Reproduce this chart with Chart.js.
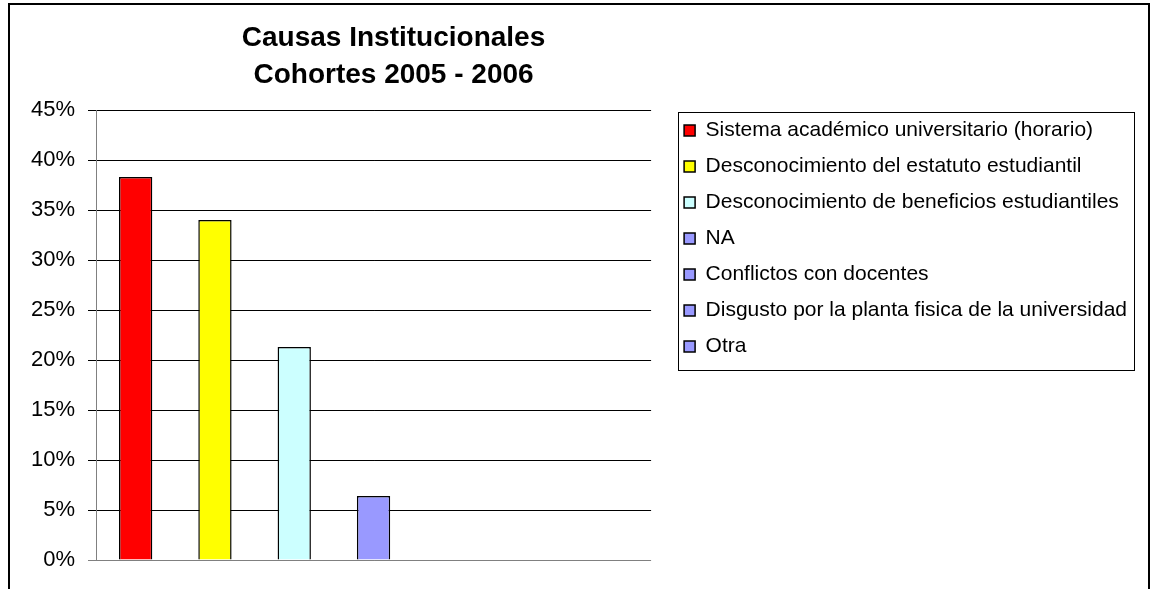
<!DOCTYPE html>
<html>
<head>
<meta charset="utf-8">
<title>Causas Institucionales</title>
<script src="https://cdn.jsdelivr.net/npm/chart.js@4.4.0/dist/chart.umd.min.js"></script>
<style>
  html, body { margin: 0; padding: 0; background: #fff; }
  .wrap { width: 1151px; height: 589px; position: relative; }
</style>
</head>
<body>
<div class="wrap"><canvas id="causas"></canvas></div>
<script>
const titleLines = ['Causas Institucionales', 'Cohortes 2005 - 2006'];
const categories = [
  'Sistema académico universitario (horario)',
  'Desconocimiento del estatuto estudiantil',
  'Desconocimiento de beneficios estudiantiles',
  'NA',
  'Conflictos con docentes',
  'Disgusto por la planta fisica de la universidad',
  'Otra'
];
const values = [38.3, 34.0, 21.3, 6.4, 0, 0, 0];
const barColors = ['#FF0000', '#FFFF00', '#CCFFFF', '#9999FF', '#9999FF', '#9999FF', '#9999FF'];
const yMax = 45;
const yStep = 5;

const FONT = '"Liberation Sans", Arial, sans-serif';

// outer frame, title and the box round the legend
const frame = {
  id: 'frame',
  afterDraw(chart) {
    const ctx = chart.ctx;
    const area = chart.chartArea;
    ctx.save();
    ctx.strokeStyle = '#000';
    ctx.lineWidth = 2;
    ctx.strokeRect(9, 4, 1140, 700);

    ctx.fillStyle = '#000';
    ctx.font = 'bold 28px ' + FONT;
    ctx.textAlign = 'center';
    ctx.textBaseline = 'middle';
    const cx = (area.left + area.right) / 2 + 20;
    ctx.fillText(titleLines[0], cx, 38);
    ctx.fillText(titleLines[1], cx, 75);

    const lg = chart.legend;
    const pad = lg.options.labels.padding;
    const hb = lg.legendHitBoxes;
    const x0 = lg.left + pad - 6;
    const x1 = Math.max(...hb.map(h => h.left + h.width)) + 7;
    const last = hb[hb.length - 1];
    const y0 = hb[0].top + 10.5 - 19;
    const y1 = last.top + 10.5 + 23;
    ctx.lineWidth = 1;
    ctx.strokeRect(Math.round(x0) + 0.5, Math.round(y0) + 0.5, Math.round(x1 - x0), Math.round(y1 - y0));
    ctx.restore();
  }
};

new Chart(document.getElementById('causas'), {
  type: 'bar',
  data: {
    labels: categories,
    datasets: [{
      label: 'Causas',
      data: values,
      backgroundColor: barColors,
      borderColor: '#000',
      borderWidth: 1.5,
      barPercentage: 0.42,
      categoryPercentage: 1.0
    }]
  },
  options: {
    responsive: true,
    maintainAspectRatio: false,
    animation: false,
    layout: {
      padding: { left: 8, top: 105, right: 14, bottom: 29 }
    },
    plugins: {
      title: { display: false },
      tooltip: { enabled: false },
      legend: {
        position: 'right',
        align: 'start',
        maxWidth: 700,
        onClick: null,
        labels: {
          boxWidth: 11,
          boxHeight: 11,
          padding: 15,
          color: '#000',
          font: { size: 21, family: FONT },
          generateLabels: (chart) => chart.data.labels.map((l, i) => ({
            text: l,
            fillStyle: barColors[i],
            strokeStyle: '#000',
            lineWidth: 1.5,
            hidden: false,
            index: i,
            datasetIndex: 0
          }))
        }
      }
    },
    scales: {
      x: {
        display: false
      },
      // empty spacer above the plot so the legend can start higher
      x2: {
        type: 'category',
        position: 'top',
        ticks: { display: false },
        grid: { display: false },
        border: { display: false },
        afterFit: (a) => { a.height = 5; }
      },
      y: {
        min: 0,
        max: yMax,
        ticks: {
          stepSize: yStep,
          padding: 13,
          color: '#000',
          font: { size: 22, family: FONT },
          callback: (v) => v + '%'
        },
        grid: {
          color: (c) => c.tick && c.tick.value === 0 ? '#808080' : '#000',
          lineWidth: 1,
          tickLength: 8
        },
        border: { color: '#808080', width: 1 },
        afterFit: (a) => { a.width = 88; }
      },
      // gap between plot and legend
      y2: {
        type: 'linear',
        position: 'right',
        ticks: { display: false },
        grid: { display: false },
        border: { display: false },
        afterFit: (a) => { a.width = 18; }
      }
    }
  },
  plugins: [frame]
});
</script>
</body>
</html>
